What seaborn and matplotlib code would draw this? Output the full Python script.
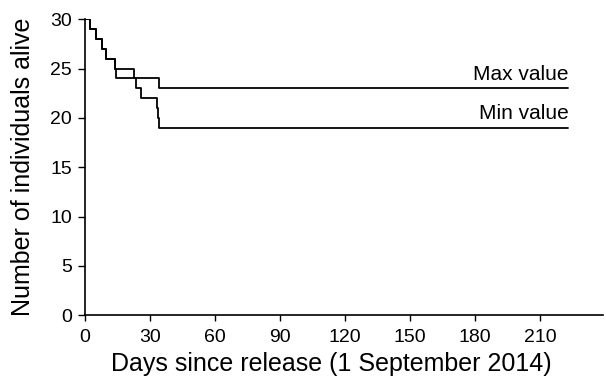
import matplotlib
matplotlib.use("Agg")
import matplotlib.pyplot as plt
import seaborn as sns
import pandas as pd

# Data
max_days = [0, 2.5, 5, 7.7, 9.8, 13.6, 14.5, 34.2, 223]
max_alive = [30, 29, 28, 27, 26, 25, 24, 23, 23]
min_days = [0, 2.5, 5, 7.7, 9.8, 13.6, 22.5, 23.5, 25.8, 33.2, 33.6, 34.0, 223]
min_alive = [30, 29, 28, 27, 26, 25, 24, 23, 22, 21, 20, 19, 19]
series_labels = ["Max value", "Min value"]
x_ticks = [0, 30, 60, 90, 120, 150, 180, 210]
y_ticks = [0, 5, 10, 15, 20, 25, 30]

sns.set_style("ticks")
plt.rcParams["font.family"] = ["Liberation Sans", "DejaVu Sans"]
plt.rcParams["text.color"] = "black"
plt.rcParams["axes.labelcolor"] = "black"

df_max = pd.DataFrame({"day": max_days, "alive": max_alive})
df_min = pd.DataFrame({"day": min_days, "alive": min_alive})

fig = plt.figure(figsize=(6.06, 3.84), dpi=100)
ax = fig.add_axes([0.1403, 0.179, 0.855, 0.771])

sns.lineplot(data=df_max, x="day", y="alive", ax=ax, color="black",
             linewidth=1.3, drawstyle="steps-post", estimator=None)
sns.lineplot(data=df_min, x="day", y="alive", ax=ax, color="black",
             linewidth=1.3, drawstyle="steps-post", estimator=None)

ax.text(max_days[-1], max_alive[-1] + 0.4, series_labels[0], ha="right",
        va="bottom", fontsize=15, color="black")
ax.text(min_days[-1], min_alive[-1] + 0.45, series_labels[1], ha="right",
        va="bottom", fontsize=15, color="black")

ax.set_xlim(0, 239)
ax.set_ylim(0, 30)
ax.set_xticks(x_ticks)
ax.set_yticks(y_ticks)
ax.tick_params(axis="x", labelsize=14, length=4, width=1, color="black",
               labelcolor="black", direction="out", pad=6)
ax.tick_params(axis="y", labelsize=14, length=5, width=1, color="black",
               labelcolor="black", direction="out", pad=4.5)
for s in ["left", "bottom"]:
    ax.spines[s].set_color("black")
    ax.spines[s].set_linewidth(1.2)
sns.despine(ax=ax)
ax.set_xlabel("Days since release (1 September 2014)", fontsize=18, color="black")
ax.xaxis.set_label_coords(0.475, -0.125)
ax.set_ylabel("Number of individuals alive", fontsize=18, labelpad=11, color="black")

fig.savefig("out.png", dpi=100)
